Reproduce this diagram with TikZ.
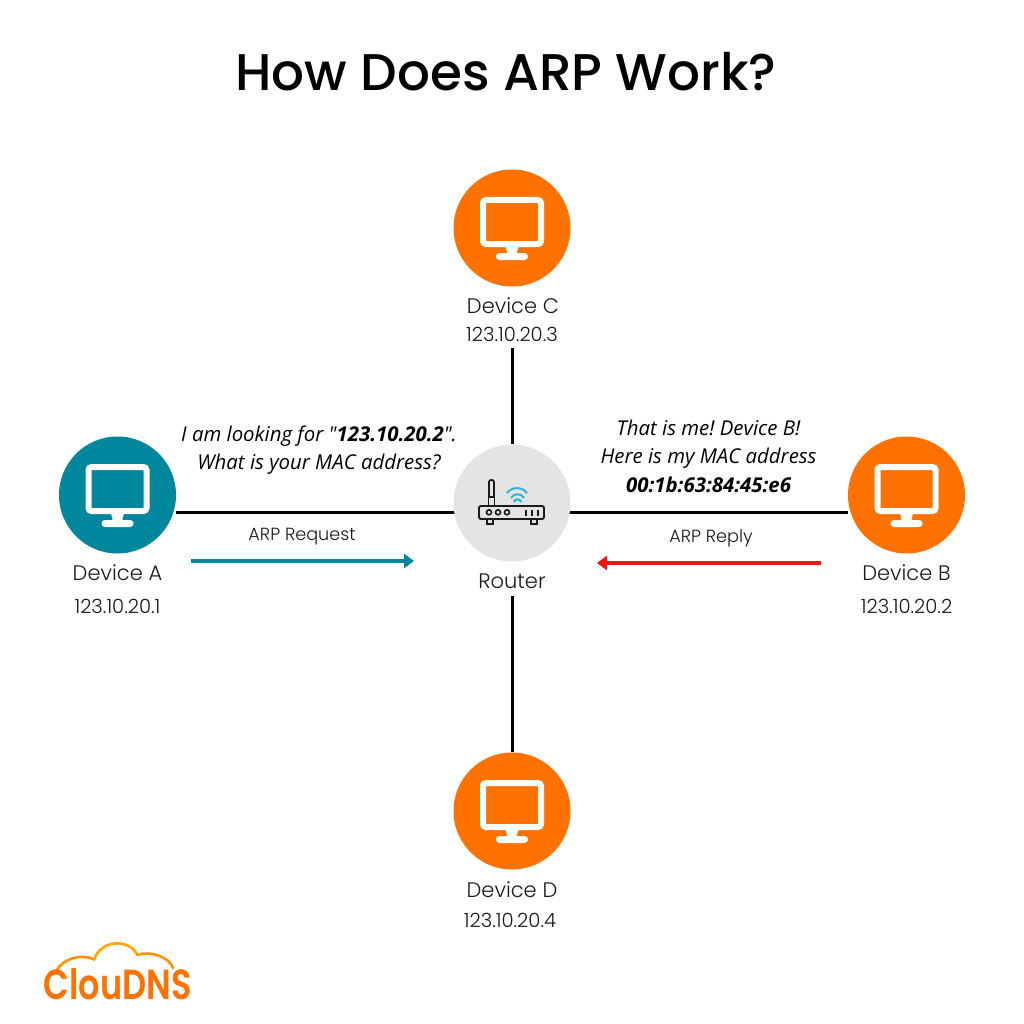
\documentclass[tikz,border=0pt]{standalone}
\usepackage{fontspec}
\setmainfont{Poppins Light}
\newfontfamily\titlefont{Poppins Medium}
\newfontfamily\logofont{Poppins SemiBold}
\newfontfamily\quotefont{Open Sans}
\usetikzlibrary{backgrounds,arrows.meta}
\definecolor{teal}{HTML}{00869D}
\definecolor{orng}{HTML}{FF7200}
\definecolor{rgrey}{HTML}{E4E4E4}
\definecolor{wifi}{HTML}{2BB4D6}
\definecolor{ink}{HTML}{1A1A1A}
\definecolor{arrowred}{HTML}{F01414}
\tikzset{
  x=1pt,y=-1pt,
  disc/.style={circle,minimum size=117pt,inner sep=0pt,fill=#1},
  name text/.style={font=\fontsize{21}{25}\selectfont,text=ink,inner sep=0pt,anchor=center},
  ip text/.style={font=\fontsize{19.6}{23}\selectfont,text=ink,inner sep=0pt,anchor=center},
  arp text/.style={font=\fontsize{17.6}{21}\selectfont,text=ink,inner sep=0pt,anchor=center},
  quote/.style={font=\quotefont\itshape\frenchspacing\fontsize{20.4}{28.5}\selectfont,text=black,inner sep=0pt,align=center,anchor=center},
  link/.style={draw=black,line width=3pt},
  flow/.style={line width=3.2pt,-{Triangle[length=10pt,width=14pt]}},
  monitor/.pic={
    \draw[white,line width=6pt,rounded corners=3pt] (-29,-28) rectangle (29,16);
    \fill[white] (-7,18) .. controls (-5,22) and (-5,24) .. (-5,27) -- (5,27) .. controls (5,24) and (5,22) .. (7,18) -- cycle;
    \fill[white,rounded corners=3.4pt] (-16,25) rectangle (16,32);
  },
}
\begin{document}
\begin{tikzpicture}
\useasboundingbox (0,0) rectangle (1024,1024);
\node[inner sep=0pt,font=\titlefont\fontsize{51.6}{60}\selectfont,text=black] (title) at (506,72) {How Does ARP Work?};

\node[disc=teal] (A) at (117.5,495) {};
\node[disc=orng] (B) at (906.5,495) {};
\node[disc=orng] (C) at (512,228) {};
\node[disc=orng] (D) at (512,811) {};
\node[disc=rgrey] (R) at (512,503) {};
\pic at (A) {monitor};
\pic at (B) {monitor};
\pic at (C) {monitor};
\pic at (D) {monitor};

\node[name text] (Aname) at (117.5,573) {Device A};
\node[ip text] (Aip) at (117.5,606) {123.10.20.1};
\node[name text] (Bname) at (906.5,573) {Device B};
\node[ip text] (Bip) at (906.5,606) {123.10.20.2};
\node[name text] (Cname) at (513,306) {Device C};
\node[ip text] (Cip) at (512,334) {123.10.20.3};
\node[name text] (Dname) at (512,890) {Device D};
\node[ip text] (Dip) at (510,920) {123.10.20.4};
\node[name text] (Rname) at (512,581) {Router};

\node[quote] (Aq) at (319,450) {I am looking for "\textbf{123.10.20.2}".\\What is your MAC address?};
\node[quote] (Bq) at (708.5,456) {That is me! Device B!\\Here is my MAC address\\\textbf{00:1b:63:84:45:e6}};
\node[arp text] (Areq) at (302,537) {ARP Request};
\node[arp text] (Brep) at (711,538) {ARP Reply};

\coordinate (Aedge) at (176,512);
\coordinate (Bedge) at (848,512);
\coordinate (Astart) at (191,561);
\coordinate (Aend) at (414,561);
\coordinate (Bstart) at (821,563);
\coordinate (Bend) at (597,563);
\coordinate (Cend) at (512,348);
\coordinate (Dstart) at (512,596);
\begin{scope}[on background layer]
\fill[white] (0,0) rectangle (1024,1024);
\draw[link] (Aedge) -- (R.center |- Aedge);
\draw[link] (R.center |- Bedge) -- (Bedge);
\draw[link] (Cend) -- (R);
\draw[link] (Dstart) -- (D);
\end{scope}
\draw[flow,teal] (Astart) -- (Aend);
\draw[flow,arrowred] (Bstart) -- (Bend);

% router icon
\begin{scope}[shift={(512,503)}]
\draw[ink,line width=1.9pt,rounded corners=2pt] (-33,3) rectangle (32,16);
\draw[ink,line width=1.7pt] (-25,16) rectangle (-19,21);
\draw[ink,line width=1.7pt] (19,16) rectangle (25,21);
\draw[ink,line width=1.7pt] (-23.5,-6) rectangle (-17.5,3);
\draw[ink,line width=1.7pt,rounded corners=2pt] (-23,-6) -- (-23,-23) -- (-18,-23) -- (-18,-6);
\foreach \cx in {-23,-14,-5} \draw[ink,line width=1.6pt] (\cx,9.3) circle (2.5);
\foreach \bx in {14,20,26} \draw[ink,line width=2pt] (\bx,6.5) -- (\bx,12.5);
\draw[wifi,line width=2pt] (-5,-10) .. controls (0,-16.5) and (10,-16.5) .. (15,-10);
\draw[wifi,line width=2pt] (-1,-5) .. controls (2,-10) and (9,-10) .. (12,-5);
\draw[wifi,line width=2pt] (1.5,-1) .. controls (3.5,-4.5) and (7.5,-4.5) .. (9.5,-1);
\end{scope}

% logo
\draw[orange!85!yellow,line width=2.6pt,line cap=round] (57,970) .. controls (62,960) and (80,953) .. (93,959);
\draw[orange!70!yellow,line width=2.6pt,line cap=round] (94,960) .. controls (100,940) and (128,938) .. (137,954);
\draw[orange!85!yellow,line width=2.6pt,line cap=round] (137,955) .. controls (152,950) and (170,958) .. (173,968);
\node[inner sep=0pt,xscale=.8,font=\logofont\fontsize{42}{46}\selectfont,text=orng] (logo) at (117.5,984) {ClouDNS};
\end{tikzpicture}
\end{document}
